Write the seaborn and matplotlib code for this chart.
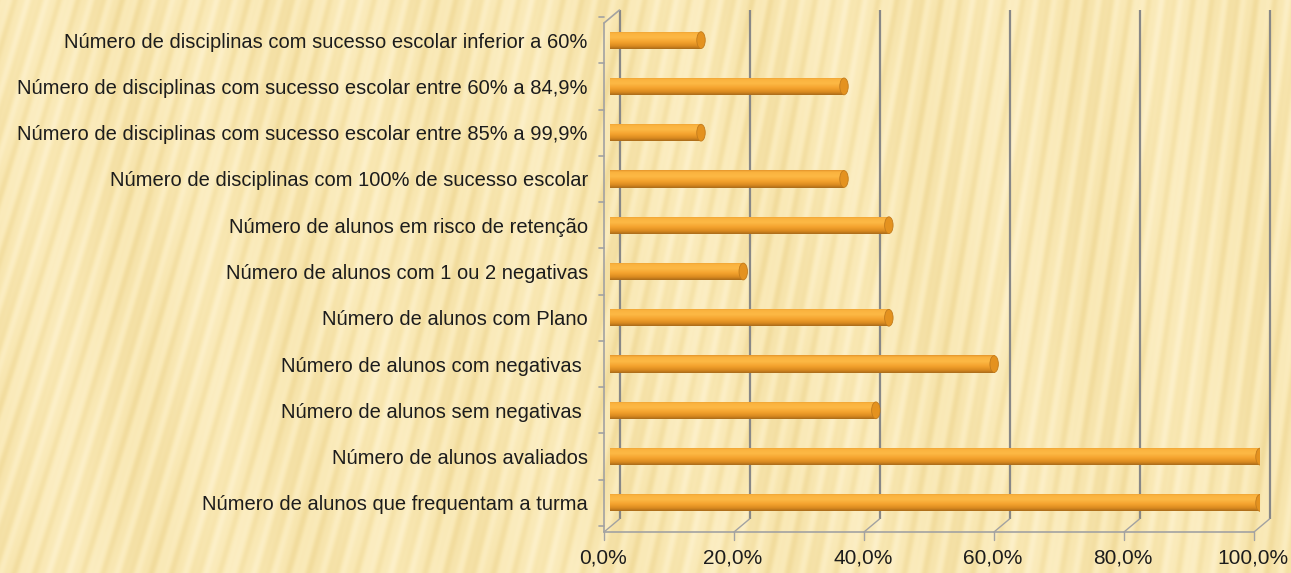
import numpy as np
import pandas as pd
import matplotlib
matplotlib.use('Agg')
import matplotlib.pyplot as plt
import matplotlib.ticker as mtick
import matplotlib.transforms as mtrans
from matplotlib.colors import LinearSegmentedColormap
from matplotlib.patches import Ellipse
import seaborn as sns

# ── Data ──────────────────────────────────────────────────────────────────────
categories = [
    'Número de disciplinas com sucesso escolar inferior a 60%',
    'Número de disciplinas com sucesso escolar entre 60% a 84,9%',
    'Número de disciplinas com sucesso escolar entre 85% a 99,9%',
    'Número de disciplinas com 100% de sucesso escolar',
    'Número de alunos em risco de retenção',
    'Número de alunos com 1 ou 2 negativas',
    'Número de alunos com Plano',
    'Número de alunos com negativas ',
    'Número de alunos sem negativas ',
    'Número de alunos avaliados',
    'Número de alunos que frequentam a turma',
]
percent = [14.0, 36.0, 14.0, 36.0, 42.9, 20.5, 42.9, 59.1, 40.9, 100.0, 100.0]
x_ticks = [0, 20, 40, 60, 80, 100]

# ── Style ─────────────────────────────────────────────────────────────────────
sns.set_theme(style='white')
plt.rcParams['font.family'] = ['Liberation Sans', 'DejaVu Sans']

BG    = '#F9E8B4'
GRID  = '#878787'
FRONT = '#A2A2A2'
BAR   = '#F6A52E'
CAP   = '#E4921F'
TEXT  = '#1C1C1C'

W, H = 1291, 573
fig = plt.figure(figsize=(W / 100, H / 100), dpi=100)
fig.patch.set_facecolor(BG)

# striped paper background (decoration only)
bg = fig.add_axes([0, 0, 1, 1], zorder=-10)
yy, xx = np.mgrid[0:H, 0:W]
tilt = 0.30 - 0.18 * xx / W
stripes = np.sin((xx + tilt * yy) * 2 * np.pi / 21.0)
fine = np.sin((xx + tilt * yy) * 2 * np.pi / 9.0 + 1.3)
soft = np.sin((xx - 0.05 * yy) * 2 * np.pi / 160.0)
shade = 0.5 + 0.17 * stripes + 0.06 * fine + 0.08 * soft
bg_cmap = LinearSegmentedColormap.from_list('paper', ['#EDD48E', '#F9E8B4', '#FFF5D6'])
bg.imshow(shade, cmap=bg_cmap, vmin=0, vmax=1, aspect='auto')
bg.axis('off')

# main axes (pixel box: left 610, right 1260, top 17, bottom 526)
ax = fig.add_axes([610 / W, 1 - 526 / H, 650 / W, 509 / H])
ax.patch.set_alpha(0)

df = pd.DataFrame({'categoria': categories, 'valor': percent})
sns.barplot(data=df, x='valor', y='categoria', orient='h', ax=ax,
            color=BAR, width=0.37, saturation=1, edgecolor='none', zorder=3)

ax.set_xlim(0, 100)
ax.set_xlabel('')
ax.set_ylabel('')
for s in ax.spines.values():
    s.set_visible(False)

# cylinder shading on each bar
cyl = LinearSegmentedColormap.from_list(
    'cyl', [(0.0, '#E2922A'), (0.1, '#FAB23E'), (0.35, '#FDB945'),
            (0.62, '#F4A22D'), (0.85, '#D8891F'), (1.0, '#A86A1A')])
grad = np.linspace(0, 1, 64).reshape(-1, 1)
for p in ax.patches[:len(categories)]:
    x0, y0 = p.get_x(), p.get_y()
    w, h = p.get_width(), p.get_height()
    im = ax.imshow(grad, cmap=cyl, aspect='auto', zorder=4,
                   extent=[x0, x0 + w, y0 + h, y0], interpolation='bicubic')
    im.set_clip_path(p)
    ax.add_patch(Ellipse((x0 + w, y0 + h / 2), width=1.3, height=h * 0.98,
                         facecolor=CAP, edgecolor='#C27B1C', lw=0.6, zorder=5))
ax.set_ylim(len(categories) - 0.5, -0.5)

# 3D-ish frame: back wall gridlines, floor and left wall
dpi = fig.dpi_scale_trans
xa = ax.get_xaxis_transform()
back = xa + mtrans.ScaledTranslation(9.5 / 100, 0, dpi)
front = xa + mtrans.ScaledTranslation(-6 / 100, 0, dpi)
y_fb, y_ft = -0.0118, 0.9882      # front floor / top
y_bb, y_bt = 0.0138, 1.0137       # back floor / top
for xv in x_ticks:
    ax.plot([xv, xv], [y_bb, y_bt], color=GRID, lw=1.6, transform=back,
            clip_on=False, zorder=1, solid_capstyle='butt')
    # slanted floor connector from front tick to back gridline
    ax.annotate('', xy=(xv, y_bb), xycoords=back, xytext=(xv, y_fb),
                textcoords=front,
                arrowprops=dict(arrowstyle='-', color=FRONT, lw=1.0,
                                shrinkA=0, shrinkB=0))
    ax.plot([xv, xv], [y_fb, y_fb - 0.016], color=FRONT, lw=1.0,
            clip_on=False, transform=front, zorder=1)
ax.plot([0, 100], [y_fb, y_fb], color=FRONT, lw=1.2, transform=front,
        clip_on=False)
ax.plot([0, 0], [y_fb, y_ft], color=FRONT, lw=1.2, clip_on=False,
        transform=front)
ax.annotate('', xy=(0, y_bt), xycoords=back, xytext=(0, y_ft),
            textcoords=front,
            arrowprops=dict(arrowstyle='-', color=FRONT, lw=1.2,
                            shrinkA=0, shrinkB=0))

# y ticks between categories, labels
ax.set_yticks(range(len(categories)))
ax.set_yticklabels(categories, fontsize=14.5, color=TEXT)
ax.tick_params(axis='y', length=0, pad=16)
left_t = ax.get_yaxis_transform() + mtrans.ScaledTranslation(-6 / 100, 0, dpi)
for b in np.arange(-0.5, len(categories), 1.0):
    ax.plot([-0.007, 0.0], [b, b], color=FRONT, lw=1.2, transform=left_t,
            clip_on=False)

ax.set_xticks(x_ticks)
ax.xaxis.set_major_formatter(
    mtick.FuncFormatter(lambda v, _: f'{v:.1f}%'.replace('.', ',')))
ax.tick_params(axis='x', length=0, pad=16, labelsize=15, labelcolor=TEXT)
for lab in ax.get_xticklabels():
    lab.set_transform(lab.get_transform() + mtrans.ScaledTranslation(-7 / 100, 0, dpi))
ax.grid(False)

fig.savefig('out.png', dpi=100, facecolor=BG)
